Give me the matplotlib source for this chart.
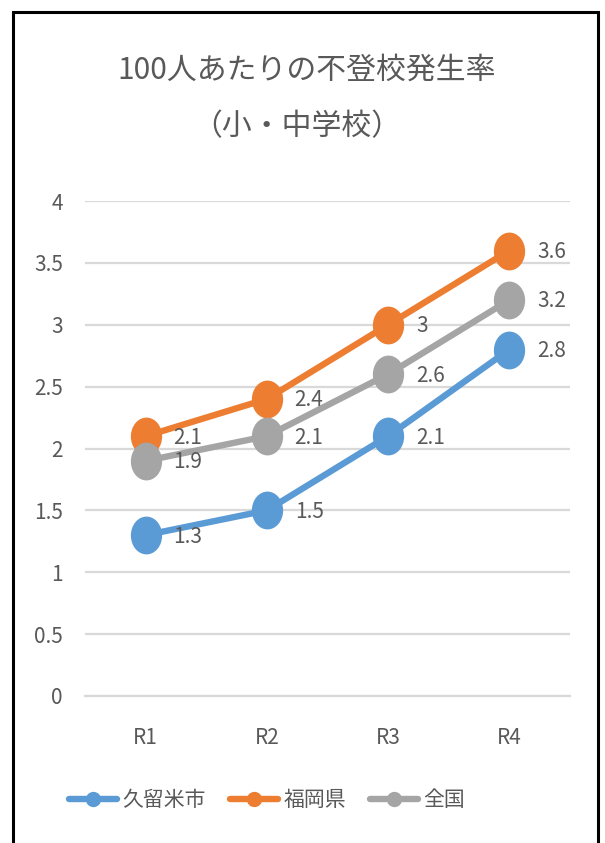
#!/usr/bin/env python3
"""
不登校発生率 (100人あたり) - 久留米市 / 福岡県 / 全国
"""

import matplotlib
matplotlib.use('Agg')
import matplotlib.pyplot as plt
from matplotlib.markers import MarkerStyle
from matplotlib.transforms import Affine2D
from matplotlib.patches import Rectangle

plt.rcParams['font.family'] = ['Noto Sans CJK JP', 'DejaVu Sans']

YEARS = ['R1', 'R2', 'R3', 'R4']
KURUME = [1.3, 1.5, 2.1, 2.8]
FUKUOKA = [2.1, 2.4, 3.0, 3.6]
ZENKOKU = [1.9, 2.1, 2.6, 3.2]
SERIES = ['久留米市', '福岡県', '全国']

C_BLUE = '#5B9BD5'
C_ORANGE = '#ED7D31'
C_GRAY = '#A5A5A5'
TXT = '#595959'
GRID = '#D9D9D9'

W, H, DPI = 605, 843, 100


def fmt(v):
    return f'{v:g}'


fig = plt.figure(figsize=(W / DPI, H / DPI), dpi=DPI)
ax = fig.add_axes([85 / W, 1 - 696 / H, (570 - 85) / W, (696 - 201) / H])

x = list(range(len(YEARS)))
big = MarkerStyle('o', transform=Affine2D().scale(1.0, 1.22))

handles = []
for vals, color, name in [(KURUME, C_BLUE, SERIES[0]),
                          (FUKUOKA, C_ORANGE, SERIES[1]),
                          (ZENKOKU, C_GRAY, SERIES[2])]:
    ax.plot(x, vals, color=color, linewidth=4.6, marker=big, markersize=21.5,
            solid_capstyle='round', zorder=3)
    for xi, v in zip(x, vals):
        ax.annotate(fmt(v), (xi, v), textcoords='offset points', xytext=(20, -1),
                    ha='left', va='center', fontsize=15, color=TXT, zorder=4)
    h, = ax.plot([], [], color=color, linewidth=4.6, marker='o', markersize=10,
                 solid_capstyle='round', label=name)
    handles.append(h)

ax.set_xlim(-0.5, len(YEARS) - 0.5)
ax.set_ylim(0, 4)
ax.set_yticks([0, 0.5, 1, 1.5, 2, 2.5, 3, 3.5, 4])
ax.set_yticklabels([fmt(t) for t in ax.get_yticks()])
ax.set_xticks(x)
ax.set_xticklabels(YEARS)
ax.tick_params(axis='y', length=0, pad=16, labelsize=15, labelcolor=TXT)
ax.tick_params(axis='x', length=0, pad=22, labelsize=15, labelcolor=TXT)
ax.grid(axis='y', color=GRID, linewidth=1.6, zorder=0)
for s in ['top', 'right', 'left']:
    ax.spines[s].set_visible(False)
ax.spines['bottom'].set_color(GRID)
ax.spines['bottom'].set_linewidth(1.6)
ax.set_axisbelow(True)

fig.text(307 / W, 1 - 70 / H, '100人あたりの不登校発生率', ha='center', va='center',
         fontsize=21.5, color=TXT)
fig.text(297 / W, 1 - 127 / H, '（小・中学校）', ha='center', va='center',
         fontsize=21.5, color=TXT)

fig.legend(handles=handles, loc='center', bbox_to_anchor=(267 / W, 1 - 800 / H),
           ncol=3, frameon=False, fontsize=15, labelcolor=TXT,
           handlelength=2.3, handletextpad=0.25, columnspacing=1.15)

# outer frame
fig.patches.append(Rectangle((12.5 / W, -0.05), (598 - 12.5) / W, 1.05 - 11.5 / H,
                             transform=fig.transFigure, fill=False,
                             edgecolor='black', linewidth=2.2))

fig.savefig('out.png', dpi=DPI)
